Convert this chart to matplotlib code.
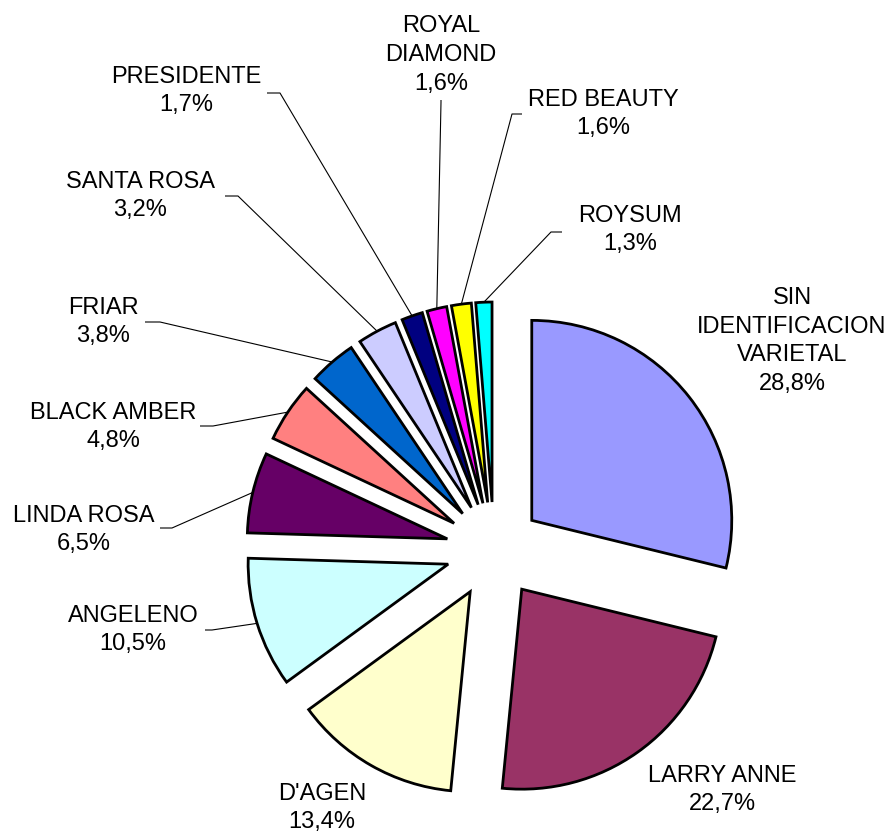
import matplotlib.pyplot as plt
import numpy as np

# Datos del gráfico (participación por variedad, %)
variedades = ['SIN\nIDENTIFICACION\nVARIETAL', 'LARRY ANNE', "D'AGEN", 'ANGELENO',
              'LINDA ROSA', 'BLACK AMBER', 'FRIAR', 'SANTA ROSA', 'PRESIDENTE',
              'ROYAL\nDIAMOND', 'RED BEAUTY', 'ROYSUM']
porcentajes = [28.8, 22.7, 13.4, 10.5, 6.5, 4.8, 3.8, 3.2, 1.7, 1.6, 1.6, 1.3]
colores = ['#9999FF', '#993366', '#FFFFCC', '#CCFFFF', '#660066', '#FF8080',
           '#0066CC', '#CCCCFF', '#000080', '#FF00FF', '#FFFF00', '#00FFFF']

W, H = 894, 833

def img(x, y):
    # coordenadas de la imagen (y hacia abajo) -> coordenadas del eje
    return x, H - y

# posición (centro) de cada etiqueta en pixeles de la imagen
pos_etiquetas = [(792, 341), (722, 790), (322, 808), (133, 630), (84, 530),
                 (113, 427), (103, 322), (140, 196), (186, 91), (441, 55),
                 (603, 114), (630, 230)]
# líneas guía: (extremo junto a la etiqueta, codo)
guias = {3: ((205, 630), (212, 630)),
         4: ((160, 528), (172, 528)),
         5: ((200, 426), (213, 426)),
         6: ((145, 322), (160, 322)),
         7: ((225, 196), (238, 196)),
         8: ((267, 93), (280, 93)),
         9: ((441, 100), (441, 102)),
         10: ((522, 114), (512, 114)),
         11: ((562, 232), (551, 232))}

plt.rcParams['font.family'] = ['Liberation Sans', 'DejaVu Sans']

fig = plt.figure(figsize=(W / 100, H / 100), dpi=100)
ax = fig.add_axes([0, 0, 1, 1])

radio = 200
separacion = 48  # desplazamiento de cada porción (unidades del eje)
wedges, _ = ax.pie(porcentajes, explode=[separacion] * len(porcentajes), colors=colores,
                   startangle=90, counterclock=False,
                   center=img(494, 550), radius=radio,
                   wedgeprops=dict(edgecolor='black', linewidth=2))

ax.set_xlim(0, W)
ax.set_ylim(0, H)
ax.set_aspect('equal')
ax.axis('off')

for i, (nombre, val) in enumerate(zip(variedades, porcentajes)):
    texto = nombre + '\n' + f'{val:.1f}'.replace('.', ',') + '%'
    x, y = img(*pos_etiquetas[i])
    ax.text(x, y, texto, ha='center', va='center', multialignment='center',
            fontsize=17, linespacing=1.4, color='black')

    if i in guias:
        w = wedges[i]
        ang = np.deg2rad((w.theta1 + w.theta2) / 2)
        cx, cy = w.center
        px, py = cx + w.r * np.cos(ang), cy + w.r * np.sin(ang)
        (ax_, ay_), (bx, by) = guias[i]
        ax_, ay_ = img(ax_, ay_)
        bx, by = img(bx, by)
        ax.plot([ax_, bx, px], [ay_, by, py], color='black', linewidth=0.8,
                solid_capstyle='butt')

plt.savefig('out.png', dpi=100)
